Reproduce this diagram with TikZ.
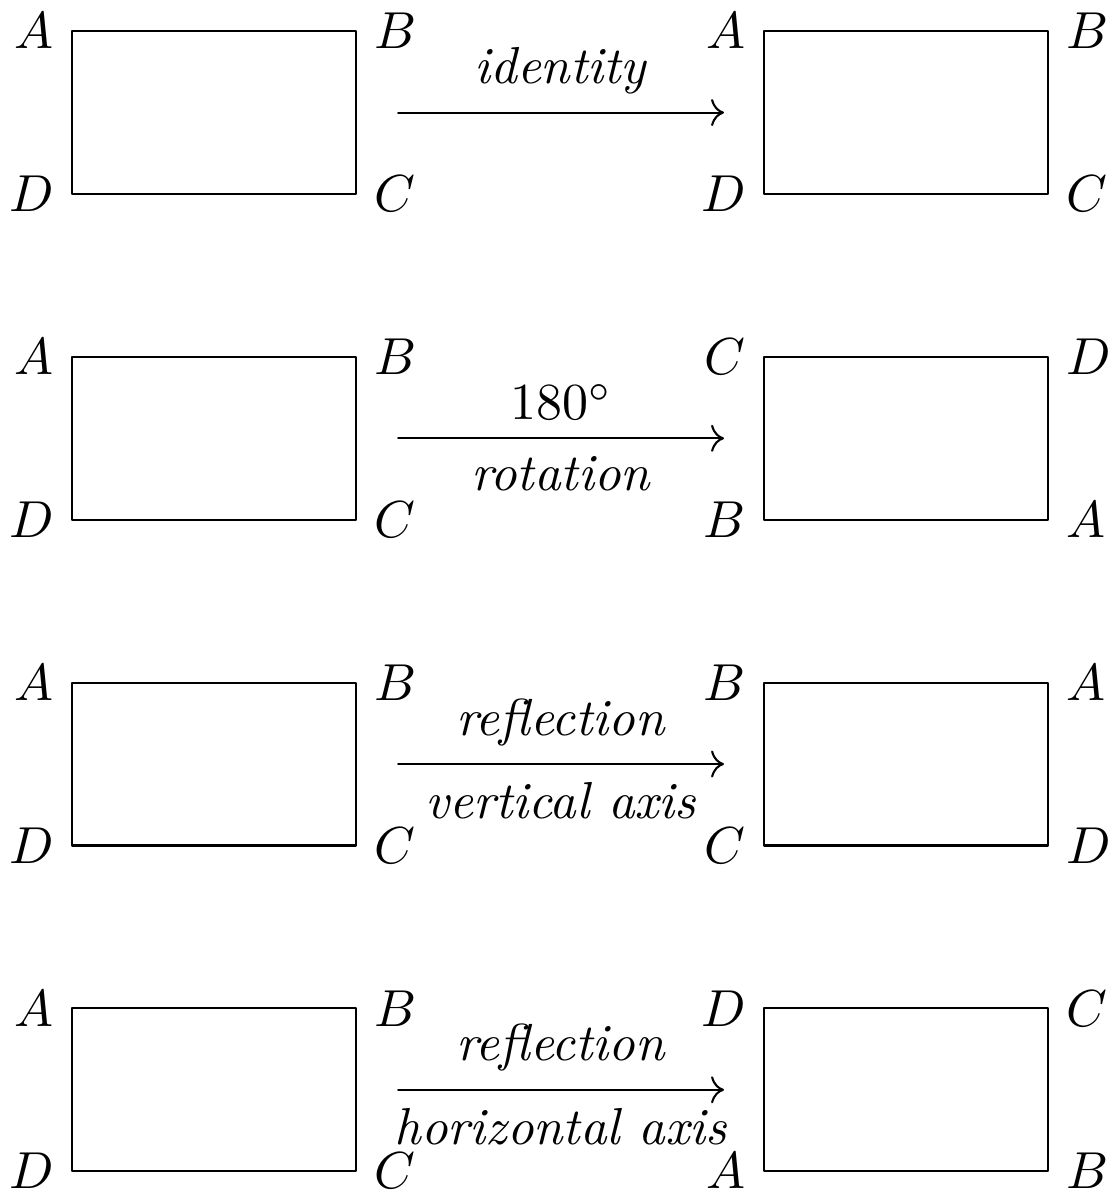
\documentclass[tikz,border=0pt]{standalone}
\usepackage{amsmath}
\usepackage{tikz}
\usetikzlibrary{arrows.meta}

\begin{document}
\begin{tikzpicture}[
		line cap=round,
		line join=round,
		box/.style={draw, inner sep=0pt, outer sep=0pt,
			minimum width=1.92cm, minimum height=1.10cm, anchor=south west},
		corner/.style={inner sep=0.333em}
		]
		% =========================
		% Layout parameters
		% =========================
		\def\xL{0.486}
		\def\xR{5.162}
		\def\dy{2.201}
		
		\useasboundingbox (0,0) rectangle (7.514,8.041);
		
		% --------------------------------
		% One row per map
		% --------------------------------
		\foreach \k/\ra/\rb/\rc/\rd/\up/\dn in {
			0/A/B/C/D/\textit{identity}/,
			1/C/D/A/B/$180^\circ$/\textit{rotation},
			2/B/A/D/C/\textit{reflection}/\textit{vertical axis},
			3/D/C/B/A/\textit{reflection}/\textit{horizontal axis}
		}
		{
			\pgfmathsetmacro{\y}{6.730-\dy*\k}
			
			% original rectangle
			\node[box] (L\k) at (\xL,\y) {};
			\node[corner, left]  (LA\k) at (L\k.north west) {$A$};
			\node[corner, right] (LB\k) at (L\k.north east) {$B$};
			\node[corner, right] (LC\k) at (L\k.south east) {$C$};
			\node[corner, left]  (LD\k) at (L\k.south west) {$D$};
			
			% image rectangle
			\node[box] (R\k) at (\xR,\y) {};
			\node[corner, left]  (RA\k) at (R\k.north west) {$\ra$};
			\node[corner, right] (RB\k) at (R\k.north east) {$\rb$};
			\node[corner, right] (RC\k) at (R\k.south east) {$\rc$};
			\node[corner, left]  (RD\k) at (R\k.south west) {$\rd$};
			
			% the map
			\draw[->]
			([xshift=0.284cm]L\k.east) -- ([xshift=-0.27cm]R\k.west)
			node[midway, above] (up\k) {\up}
			node[midway, below] (dn\k) {\dn};
		}
		
	\end{tikzpicture}
\end{document}
